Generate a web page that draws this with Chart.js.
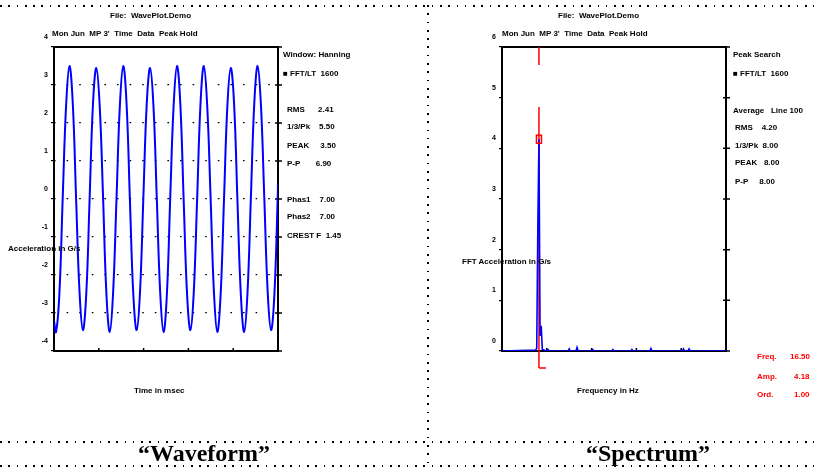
<!DOCTYPE html>
<html>
<head>
<meta charset="utf-8">
<script src="https://cdn.jsdelivr.net/npm/chart.js@4/dist/chart.umd.min.js"></script>
<style>
    html, body { margin: 0; padding: 0; background: #fff; }
    #page { position: relative; width: 814px; height: 469px; overflow: hidden; font-family: "Liberation Sans", Arial, sans-serif; }
    .box { position: absolute; top: 0; height: 469px; }
    .t { position: absolute; font-size: 8px; font-weight: bold; line-height: 9px; white-space: pre; color: #000; }
    .red { color: #ff0000; }
    .hdots { position: absolute; height: 2px; left: 0; width: 814px;
        background: repeating-linear-gradient(to right, #000 0 1.6px, transparent 1.6px 8.3px); }
    .vdots { position: absolute; width: 2px;
        background: repeating-linear-gradient(to bottom, #000 0 1.6px, transparent 1.6px 8.3px); }
    .caption { position: absolute; top: 440px; font-family: "Liberation Serif", "Times New Roman", serif;
        font-weight: bold; font-size: 24px; line-height: 26px; transform: translateX(-50%); }
</style>
</head>
<body>
<div id="page">
    <div class="box" style="left:0;width:428px;"><canvas id="wave-chart"></canvas></div>
    <div class="box" style="left:428px;width:386px;"><canvas id="spec-chart"></canvas></div>

    <!-- dotted frame -->
    <div class="hdots" style="top:5px;"></div>
    <div class="hdots" style="top:441px;"></div>
    <div class="hdots" style="top:465px;"></div>
    <div class="vdots" style="left:427px;top:5px;height:462px;"></div>

    <!-- waveform texts -->
    <div class="t" style="left:110px;top:11px;">File:  WavePlot.Demo</div>
    <div class="t" style="left:52px;top:29px;">Mon Jun  MP 3'  Time  Data  Peak Hold</div>
    <div class="t" style="left:8px;top:244px;">Acceleration in G/s</div>
    <div class="t" style="left:134px;top:386px;">Time in msec</div>
    <div class="t" style="left:283px;top:50px;">Window: Hanning</div>
    <div class="t" style="left:283px;top:69px;">&#9632; FFT/LT  1600</div>
    <div class="t" style="left:287px;top:105px;">RMS      2.41</div>
    <div class="t" style="left:287px;top:122px;">1/3/Pk    5.50</div>
    <div class="t" style="left:287px;top:141px;">PEAK     3.50</div>
    <div class="t" style="left:287px;top:159px;">P-P       6.90</div>
    <div class="t" style="left:287px;top:195px;">Phas1    7.00</div>
    <div class="t" style="left:287px;top:212px;">Phas2    7.00</div>
    <div class="t" style="left:287px;top:231px;">CREST F  1.45</div>

    <!-- spectrum texts -->
    <div class="t" style="left:558px;top:11px;">File:  WavePlot.Demo</div>
    <div class="t" style="left:502px;top:29px;">Mon Jun  MP 3'  Time  Data  Peak Hold</div>
    <div class="t" style="left:462px;top:257px;">FFT Acceleration in G/s</div>
    <div class="t" style="left:577px;top:386px;">Frequency in Hz</div>
    <div class="t" style="left:733px;top:50px;">Peak Search</div>
    <div class="t" style="left:733px;top:69px;">&#9632; FFT/LT  1600</div>
    <div class="t" style="left:733px;top:106px;">Average   Line 100</div>
    <div class="t" style="left:735px;top:123px;">RMS    4.20</div>
    <div class="t" style="left:735px;top:141px;">1/3/Pk  8.00</div>
    <div class="t" style="left:735px;top:158px;">PEAK   8.00</div>
    <div class="t" style="left:735px;top:177px;">P-P     8.00</div>
    <div class="t red" style="left:757px;top:352px;">Freq.</div>
    <div class="t red" style="left:790px;top:352px;">16.50</div>
    <div class="t red" style="left:757px;top:372px;">Amp.</div>
    <div class="t red" style="left:794px;top:372px;">4.18</div>
    <div class="t red" style="left:757px;top:390px;">Ord.</div>
    <div class="t red" style="left:794px;top:390px;">1.00</div>

    <div class="caption" style="left:204px;">&ldquo;Waveform&rdquo;</div>
    <div class="caption" style="left:648px;">&ldquo;Spectrum&rdquo;</div>
</div>

<script>
(function() {
    'use strict';

    // 파형 데이터 (msec / G)
    var waveTime = [0, 4.5, 12, 19.5, 27, 34.5, 42, 49.5, 57, 64.5, 72, 79.5, 87, 94.5, 102, 109.5,
        117, 124.5, 132, 139.5, 147, 154.5, 162, 169.5, 177, 184.5, 192, 199.5, 207, 214.5, 222, 229.5,
        237, 244.5, 252, 259.5, 267, 274.5, 282, 289.5, 297, 304.5, 312, 319.5, 327, 334.5, 342, 349.5,
        357, 364.5, 372, 379.5, 387, 394.5, 402, 409.5, 417, 424.5, 432, 439.5, 447, 454.5, 462, 469.5,
        477, 484.5, 492, 499.5, 500];
    var waveAccel = [-3.2, -3.5, -2.5, 0.05, 2.45, 3.5, 2.5, -0.05, -2.45, -3.45, -2.5, 0, 2.5, 3.45, 2.45, 0.05,
        -2.5, -3.5, -2.45, 0, 2.45, 3.5, 2.5, -0.05, -2.5, -3.45, -2.45, 0.05, 2.5, 3.45, 2.45, 0,
        -2.45, -3.5, -2.5, 0.05, 2.45, 3.5, 2.5, -0.05, -2.5, -3.45, -2.45, 0, 2.5, 3.5, 2.45, 0.05,
        -2.45, -3.5, -2.5, 0, 2.45, 3.45, 2.5, -0.05, -2.5, -3.5, -2.45, 0.05, 2.5, 3.5, 2.45, 0,
        -2.45, -3.45, -2.5, 0.1, 0.4];
    var waveTicksX = [0, 100, 200, 300, 400, 500];
    var waveTicksY = [-4, -3, -2, -1, 0, 1, 2, 3, 4];

    // 스펙트럼 데이터 (Hz / G)
    var specFreq = [0, 15, 15.5, 16, 16.5, 17, 17.5, 18, 20, 20.5, 21, 29.5, 30, 30.5, 33, 33.5, 34,
        40, 40.5, 41, 49, 49.5, 50, 57.5, 58, 58.5, 66, 66.5, 67, 80.5, 81, 81.5, 83, 83.5, 84, 100];
    var specAmp = [0, 0.02, 0.05, 2.45, 4.18, 0.3, 0.5, 0.03, 0, 0.03, 0, 0, 0.04, 0, 0, 0.07, 0,
        0, 0.03, 0, 0, 0.03, 0, 0, 0.03, 0, 0, 0.05, 0, 0, 0.04, 0, 0, 0.04, 0, 0];
    var specTicksX = [0, 20, 40, 60, 80, 100];
    var specTicksY = [0, 1, 2, 3, 4, 5, 6];
    var cursorFreq = 16.5;

    var tickFont = { family: 'Liberation Sans', size: 7, weight: 'bold' };

    document.addEventListener('DOMContentLoaded', function() {
        initWaveChart();
        initSpecChart();
    });

    function toPoints(xs, ys) {
        return xs.map(function(x, i) {
            return { x: x, y: ys[i] };
        });
    }

    /**
     * 프레임 + 오른쪽/아래 안쪽 눈금
     */
    var framePlugin = {
        id: 'frame',
        beforeDatasetsDraw: function(chart) {
            var a = chart.chartArea;
            var ctx = chart.ctx;
            var sy = chart.scales.y;
            var sx = chart.scales.x;
            ctx.save();
            ctx.strokeStyle = '#000';
            ctx.lineWidth = 2;
            ctx.strokeRect(a.left, a.top, a.right - a.left, a.bottom - a.top);
            ctx.lineWidth = 1.5;
            ctx.beginPath();
            sy.ticks.forEach(function(t) {
                var py = sy.getPixelForValue(t.value);
                ctx.moveTo(a.right - 3, py);
                ctx.lineTo(a.right + 4, py);
            });
            sx.ticks.forEach(function(t) {
                var px = sx.getPixelForValue(t.value);
                ctx.moveTo(px, a.bottom);
                ctx.lineTo(px, a.bottom - 3);
            });
            ctx.stroke();
            ctx.restore();
        }
    };

    /**
     * 스펙트럼 커서 (빨간색)
     */
    var cursorPlugin = {
        id: 'cursor',
        beforeDatasetsDraw: function(chart) {
            var a = chart.chartArea;
            var ctx = chart.ctx;
            var px = chart.scales.x.getPixelForValue(cursorFreq);
            ctx.save();
            ctx.strokeStyle = '#ff0000';
            ctx.lineWidth = 1.5;
            ctx.setLineDash([18, 42, 1000, 0]);
            ctx.beginPath();
            ctx.moveTo(px, a.top);
            ctx.lineTo(px, a.bottom + 17);
            ctx.stroke();
            ctx.setLineDash([]);
            ctx.beginPath();
            ctx.moveTo(px, a.bottom + 17);
            ctx.lineTo(px + 7, a.bottom + 17);
            ctx.stroke();
            ctx.restore();
        },
        afterDatasetsDraw: function(chart) {
            var idx = specFreq.indexOf(cursorFreq);
            var px = chart.scales.x.getPixelForValue(cursorFreq);
            var py = chart.scales.y.getPixelForValue(specAmp[idx]);
            var ctx = chart.ctx;
            ctx.save();
            ctx.strokeStyle = '#ff0000';
            ctx.lineWidth = 1.5;
            ctx.strokeRect(px - 2.5, py - 4, 5, 8);
            ctx.restore();
        }
    };

    function axisX(min, max, ticks) {
        return {
            type: 'linear',
            min: min,
            max: max,
            afterBuildTicks: function(scale) {
                scale.ticks = ticks.map(function(v) { return { value: v }; });
            },
            afterFit: function(scale) { scale.height = 20; },
            grid: { display: false },
            border: { display: false },
            ticks: { font: tickFont, color: '#000', padding: 13, maxRotation: 0 }
        };
    }

    function axisY(min, max, ticks, gridOn) {
        return {
            type: 'linear',
            min: min,
            max: max,
            afterBuildTicks: function(scale) {
                scale.ticks = ticks.map(function(v) { return { value: v }; });
            },
            afterFit: function(scale) { scale.width = 24; },
            grid: {
                drawOnChartArea: gridOn,
                color: '#000',
                lineWidth: 1.2,
                tickLength: 3,
                tickBorderDash: [],
                tickColor: '#000'
            },
            border: { display: false, dash: [1.6, 11] },
            ticks: { font: tickFont, color: '#000', padding: 3, labelOffset: -10 }
        };
    }

    /**
     * 파형 차트
     */
    function initWaveChart() {
        var ctx = document.getElementById('wave-chart');
        new Chart(ctx, {
            type: 'line',
            data: {
                datasets: [{
                    data: toPoints(waveTime, waveAccel),
                    borderColor: '#0000ff',
                    borderWidth: 2,
                    pointRadius: 0,
                    tension: 0.4,
                    fill: false
                }]
            },
            options: {
                responsive: true,
                maintainAspectRatio: false,
                animation: false,
                layout: { padding: { left: 30, top: 47, right: 150, bottom: 98 } },
                plugins: { legend: { display: false }, tooltip: { enabled: false } },
                scales: {
                    x: axisX(0, 500, waveTicksX),
                    y: axisY(-4, 4, waveTicksY, true)
                }
            },
            plugins: [framePlugin]
        });
    }

    /**
     * 스펙트럼 차트
     */
    function initSpecChart() {
        var ctx = document.getElementById('spec-chart');
        new Chart(ctx, {
            type: 'line',
            data: {
                datasets: [{
                    data: toPoints(specFreq, specAmp),
                    borderColor: '#0000ff',
                    borderWidth: 1.6,
                    pointRadius: 0,
                    tension: 0,
                    fill: false
                }]
            },
            options: {
                responsive: true,
                maintainAspectRatio: false,
                animation: false,
                layout: { padding: { left: 50, top: 47, right: 88, bottom: 98 } },
                plugins: { legend: { display: false }, tooltip: { enabled: false } },
                scales: {
                    x: axisX(0, 100, specTicksX),
                    y: axisY(0, 6, specTicksY, false)
                }
            },
            plugins: [framePlugin, cursorPlugin]
        });
    }

})();
</script>
</body>
</html>
